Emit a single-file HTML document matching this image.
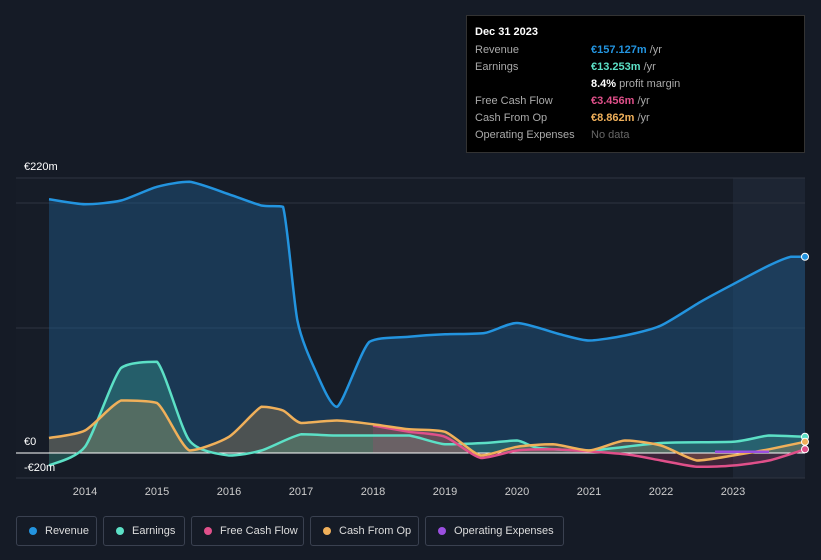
<!DOCTYPE html>
<html><head><meta charset="utf-8"><style>
body{margin:0;background:#151b26;font-family:"Liberation Sans",sans-serif;}
#wrap{position:relative;width:821px;height:560px;overflow:hidden;background:#151b26;}
.tt{position:absolute;left:466px;top:15px;width:339px;height:138px;background:#000;border:1px solid #333;box-sizing:border-box;color:#fff;font-size:11px;}
.tt .r{position:absolute;left:8px;}
.tt .v{position:absolute;left:124px;}
.lg{position:absolute;top:516px;height:30px;border:1px solid #3a4150;border-radius:3px;box-sizing:border-box;color:#ddd;font-size:11px;line-height:28px;padding-left:28px;}
.lg i{position:absolute;left:12px;top:10px;width:8px;height:8px;border-radius:50%;}
</style></head><body>
<div id="wrap">
<svg id="chart" width="821" height="560" style="position:absolute;left:0;top:0"></svg>
<div class="tt">
<div class="r" style="top:10px;font-weight:bold">Dec 31 2023</div>
<div class="r" style="top:28px;color:#aaa">Revenue</div><div class="v" style="top:28px"><b style="color:#2394df">€157.127m</b> <span style="color:#aaa">/yr</span></div>
<div class="r" style="top:45px;color:#aaa">Earnings</div><div class="v" style="top:45px"><b style="color:#5ce0c6">€13.253m</b> <span style="color:#aaa">/yr</span></div>
<div class="v" style="top:62px"><b>8.4%</b> <span style="color:#aaa">profit margin</span></div>
<div class="r" style="top:79px;color:#aaa">Free Cash Flow</div><div class="v" style="top:79px"><b style="color:#e0508a">€3.456m</b> <span style="color:#aaa">/yr</span></div>
<div class="r" style="top:96px;color:#aaa">Cash From Op</div><div class="v" style="top:96px"><b style="color:#f0b05a">€8.862m</b> <span style="color:#aaa">/yr</span></div>
<div class="r" style="top:113px;color:#aaa">Operating Expenses</div><div class="v" style="top:113px;color:#666">No data</div>
</div>
<div class="lg" style="left:16px;width:81px"><i style="background:#2394df"></i>Revenue</div>
<div class="lg" style="left:103px;width:82px"><i style="background:#5ce0c6"></i>Earnings</div>
<div class="lg" style="left:191px;width:113px"><i style="background:#e0508a"></i>Free Cash Flow</div>
<div class="lg" style="left:310px;width:109px"><i style="background:#f0b05a"></i>Cash From Op</div>
<div class="lg" style="left:425px;width:139px"><i style="background:#9b4fe0"></i>Operating Expenses</div>
</div>
<script>
const yearTicks=[2014,2015,2016,2017,2018,2019,2020,2021,2022,2023];
const revT=[2013.5,2014,2014.5,2015,2015.45,2016,2016.45,2016.75,2016.95,2017.2,2017.5,2017.95,2018.5,2019,2019.55,2020,2020.6,2021,2021.5,2022,2022.55,2023,2023.5,2023.8,2024];
const revV=[203,199,202,213,217,207,198,197,106,66,37,89,93,95,96,104,95,90,94,102,121,135,150,157,157];
const earnT=[2013.5,2014,2014.5,2015,2015.45,2016,2016.45,2017,2017.5,2018,2018.5,2019,2019.55,2020,2020.3,2021,2022,2023,2023.5,2024];
const earnV=[-10,5,68,73,10,-2,2,15,14,14,14,7,8,10,4,2,8,9,14,13];
const cfoT=[2013.5,2014,2014.5,2015,2015.45,2016,2016.45,2016.75,2017,2017.5,2018,2018.5,2019,2019.5,2020,2020.5,2021,2021.5,2022,2022.5,2023,2023.5,2024];
const cfoV=[12,18,42,40,2,13,37,34,24,26,23,19,17,-2,5,7,2,10,6,-6,-2,3,9];
const fcfT=[2018,2018.5,2019,2019.5,2020,2020.5,2021.5,2022,2022.5,2023,2023.5,2024];
const fcfV=[22,17,13,-4,2,3,-1,-6,-11,-10,-6,3];
const opxT=[2022.75,2023.5];
const opxV=[1,1];
const yTicks=[220,0,-20];
const yLabels=["€220m","€0","-€20m"];
const X=t=>85+(t-2014)*72;
const Y=v=>453-v*1.25;
const svg=document.getElementById('chart');
const NS='http://www.w3.org/2000/svg';
function mk(tag,attrs,name){const e=document.createElementNS(NS,tag);for(const k in attrs)e.setAttribute(k,attrs[k]);


svg.appendChild(e);return e;}
mk('rect',{x:16,y:178,width:789,height:300,fill:'#161c27'},'plot-area');
mk('rect',{x:X(2023),y:178,width:805-X(2023),height:300,fill:'#1d2533'},'forecast-region');
[220,200,100,-20].forEach(v=>mk('line',{x1:16,x2:805,y1:Y(v),y2:Y(v),stroke:'#2e3542','stroke-width':1},'grid-line'));
function cl(v,a,b){return Math.max(Math.min(a,b),Math.min(Math.max(a,b),v));}
function path(T,V){const p=T.map((t,i)=>[X(t),Y(V[i])]);let d='M'+p[0][0].toFixed(1)+','+p[0][1].toFixed(1);
for(let i=0;i<p.length-1;i++){const p0=p[Math.max(i-1,0)],p1=p[i],p2=p[i+1],p3=p[Math.min(i+2,p.length-1)];const k=0.12;
const c1=[p1[0]+(p2[0]-p0[0])*k,cl(p1[1]+(p2[1]-p0[1])*k,p1[1],p2[1])],c2=[p2[0]-(p3[0]-p1[0])*k,cl(p2[1]-(p3[1]-p1[1])*k,p1[1],p2[1])];
d+='C'+c1.map(v=>v.toFixed(1))+' '+c2.map(v=>v.toFixed(1))+' '+p2[0].toFixed(1)+','+p2[1].toFixed(1);}return d;}
function area(T,V){return path(T,V)+'L'+X(T[T.length-1])+','+Y(0)+'L'+X(T[0])+','+Y(0)+'Z';}
mk('path',{d:area(revT,revV),fill:'#1f5b8c',opacity:0.45},'revenue-area');
mk('path',{d:area(earnT,earnV),fill:'#3fb5a0',opacity:0.3},'earnings-area');
mk('path',{d:area(cfoT,cfoV),fill:'#c09050',opacity:0.3},'cash-from-op-area');
mk('path',{d:area(fcfT,fcfV),fill:'#b04070',opacity:0.25},'free-cash-flow-area');
mk('line',{x1:16,x2:805,y1:Y(0),y2:Y(0),stroke:'#fff','stroke-width':1},'zero-line');
const series=[[revT,revV,'#2394df','revenue-line'],[earnT,earnV,'#5ce0c6','earnings-line'],[fcfT,fcfV,'#e0508a','free-cash-flow-line'],[cfoT,cfoV,'#f0b05a','cash-from-op-line'],[opxT,opxV,'#9b4fe0','operating-expenses-line']];
series.forEach(s=>{mk('path',{d:path(s[0],s[1]),fill:'none',stroke:s[2],'stroke-width':2.5,'stroke-linejoin':'round'},s[3]);
const n=s[0].length-1;if(s[0][n]==2024)mk('circle',{cx:X(2024),cy:Y(s[1][n]),r:3.5,fill:s[2],stroke:'#fff','stroke-width':1},s[3]+'-end-dot');});
yTicks.forEach((v,i)=>{const t=mk('text',{x:24,y:Y(v)-8+(v<0?1:0),fill:'#fff','font-size':11,'font-family':'Liberation Sans'},'y-tick-label');t.textContent=yLabels[i];});
yearTicks.forEach(y=>{const t=mk('text',{x:X(y),y:495,fill:'#ccc','font-size':11,'text-anchor':'middle','font-family':'Liberation Sans'},'x-tick-label');t.textContent=y;});
</script>
</body></html>
